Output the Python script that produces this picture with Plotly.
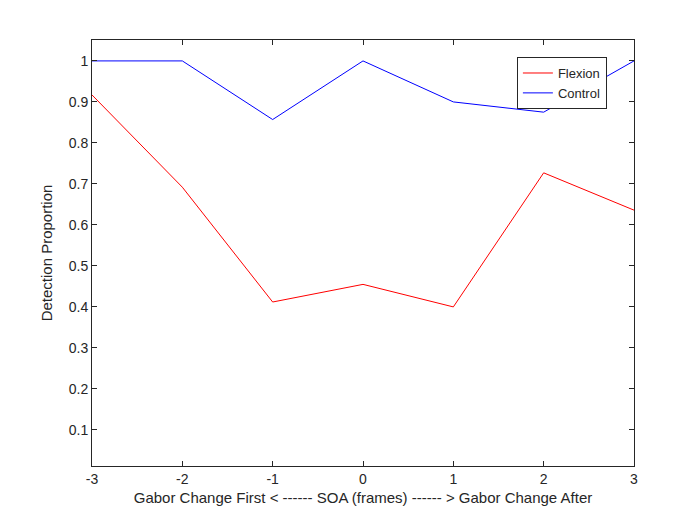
import plotly.graph_objects as go

soa = [-3, -2, -1, 0, 1, 2, 3]
soa_text = ["-3", "-2", "-1", "0", "1", "2", "3"]
flexion = [0.917, 0.692, 0.412, 0.455, 0.400, 0.727, 0.636]
control = [1.0, 1.0, 0.857, 1.0, 0.900, 0.875, 1.0]
yticks = [0.1, 0.2, 0.3, 0.4, 0.5, 0.6, 0.7, 0.8, 0.9, 1]
ytext = ["0.1", "0.2", "0.3", "0.4", "0.5", "0.6", "0.7", "0.8", "0.9", "1"]

fig = go.Figure()
fig.add_trace(go.Scatter(x=soa, y=flexion, mode="lines", name="Flexion",
                         line=dict(color="#ff0000", width=1)))
fig.add_trace(go.Scatter(x=soa, y=control, mode="lines", name="Control",
                         line=dict(color="#0000ff", width=1)))

ax = dict(showline=True, mirror="ticks", linecolor="#262626", linewidth=1,
          ticks="inside", ticklen=5, tickcolor="#262626", showgrid=False,
          zeroline=False, tickfont=dict(size=14, color="#262626"))
fig.update_layout(
    width=700, height=525, plot_bgcolor="white", paper_bgcolor="white",
    font=dict(family="Liberation Sans, Arial", color="#262626"),
    margin=dict(l=84, r=74, t=32, b=67),
    xaxis=dict(range=[-3, 3], tickvals=soa, ticktext=soa_text,
               title=dict(text="Gabor Change First < ------ SOA (frames) ------ > Gabor Change After",
                          font=dict(size=15), standoff=6), **ax),
    yaxis=dict(range=[0.012, 1.051], tickvals=yticks, ticktext=ytext,
               title=dict(text="Detection Proportion", font=dict(size=15), standoff=12), **ax),
    legend=dict(x=0.95, y=0.96, xanchor="right", yanchor="top",
                bgcolor="white", bordercolor="#262626", borderwidth=1,
                font=dict(size=13), tracegroupgap=0),
    showlegend=True,
)
fig.write_html("out.html")
